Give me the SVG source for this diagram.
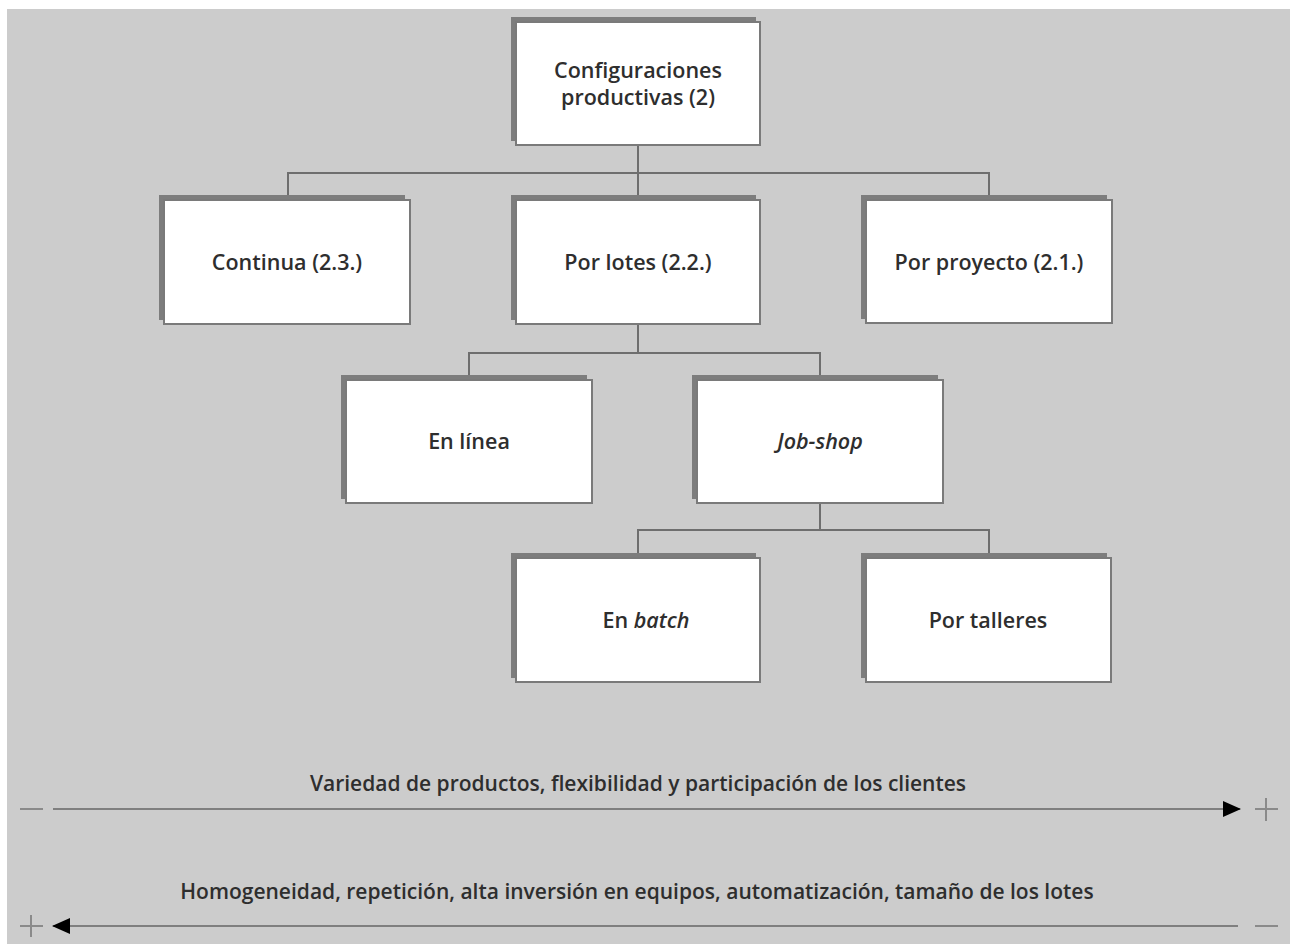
<svg xmlns="http://www.w3.org/2000/svg" width="1290" height="944" viewBox="0 0 1290 944">
  <style>
    .shadow { fill: #7d7d7d; }
    .box { fill: #ffffff; stroke: #7a7a7a; stroke-width: 2; }
    .lbl { font-family: "Open Sans", "Noto Sans", sans-serif; font-size: 21.5px; font-weight: 600; fill: #2e2e2e; text-anchor: middle; }
    .ax { font-size: 21px; }
    .it { font-style: italic; }
    .wire { fill: none; stroke: #6e6e6e; stroke-width: 2; }
    .axis { fill: none; stroke: #7f7f7f; stroke-width: 2; }
    .mark { fill: none; stroke: #8a8a8a; stroke-width: 2; }
  </style>
  <defs>
    <marker id="headBig" viewBox="0 0 18 16" refX="17" refY="8" markerWidth="18" markerHeight="16" markerUnits="userSpaceOnUse" orient="auto">
      <path d="M0,0 L18,8 L0,16 Z" fill="#000"/>
    </marker>
  </defs>

  <!-- backdrop -->
  <rect x="7" y="9" width="1283" height="935" fill="#cccccc"/>

  <!-- tree connectors -->
  <g id="connectors">
    <path class="wire" d="M638,145 V200 M288,200 V173 H989 V200"/>
    <path class="wire" d="M638,324 V353 M469,380 V353 H820 V380"/>
    <path class="wire" d="M820,503 V530 M638,558 V530 H989 V558"/>
  </g>

  <g id="n-root">
    <rect class="shadow" x="511" y="17" width="245" height="124"/>
    <rect class="box" x="516" y="22" width="244" height="123"/>
    <text class="lbl" x="638" y="78">Configuraciones</text>
    <text class="lbl" x="638" y="105">productivas (2)</text>
  </g>

  <g id="n-continua">
    <rect class="shadow" x="159" y="195" width="246" height="125"/>
    <rect class="box" x="164" y="200" width="246" height="124"/>
    <text class="lbl" x="287" y="270">Continua (2.3.)</text>
  </g>

  <g id="n-lotes">
    <rect class="shadow" x="511" y="195" width="245" height="125"/>
    <rect class="box" x="516" y="200" width="244" height="124"/>
    <text class="lbl" x="638" y="270">Por lotes (2.2.)</text>
  </g>

  <g id="n-proyecto">
    <rect class="shadow" x="861" y="195" width="246" height="124"/>
    <rect class="box" x="866" y="200" width="246" height="123"/>
    <text class="lbl" x="989" y="270">Por proyecto (2.1.)</text>
  </g>

  <g id="n-linea">
    <rect class="shadow" x="341" y="375" width="246" height="124"/>
    <rect class="box" x="346" y="380" width="246" height="123"/>
    <text class="lbl" x="469" y="449">En línea</text>
  </g>

  <g id="n-jobshop">
    <rect class="shadow" x="692" y="375" width="246" height="124"/>
    <rect class="box" x="697" y="380" width="246" height="123"/>
    <text class="lbl it" x="820" y="449">Job-shop</text>
  </g>

  <g id="n-batch">
    <rect class="shadow" x="511" y="553" width="245" height="125"/>
    <rect class="box" x="516" y="558" width="244" height="124"/>
    <text class="lbl" x="646" y="628">En <tspan class="it">batch</tspan></text>
  </g>

  <g id="n-talleres">
    <rect class="shadow" x="861" y="553" width="246" height="125"/>
    <rect class="box" x="866" y="558" width="245" height="124"/>
    <text class="lbl" x="988" y="628">Por talleres</text>
  </g>

  <!-- scale axes -->
  <g id="axis-top">
    <text class="lbl ax" x="638" y="791">Variedad de productos, flexibilidad y participación de los clientes</text>
    <line class="mark" x1="20" y1="809" x2="43" y2="809"/>
    <line class="axis" x1="53" y1="809" x2="1240" y2="809" marker-end="url(#headBig)"/>
    <path class="mark" d="M1255,809 H1278 M1266,798 V821"/>
  </g>
  <g id="axis-bottom">
    <text class="lbl ax" x="637" y="899">Homogeneidad, repetición, alta inversión en equipos, automatización, tamaño de los lotes</text>
    <path class="mark" d="M20,926 H43 M31,915 V937"/>
    <line class="axis" x1="1238" y1="926" x2="53" y2="926" marker-end="url(#headBig)"/>
    <line class="mark" x1="1255" y1="926" x2="1278" y2="926"/>
  </g>
</svg>
